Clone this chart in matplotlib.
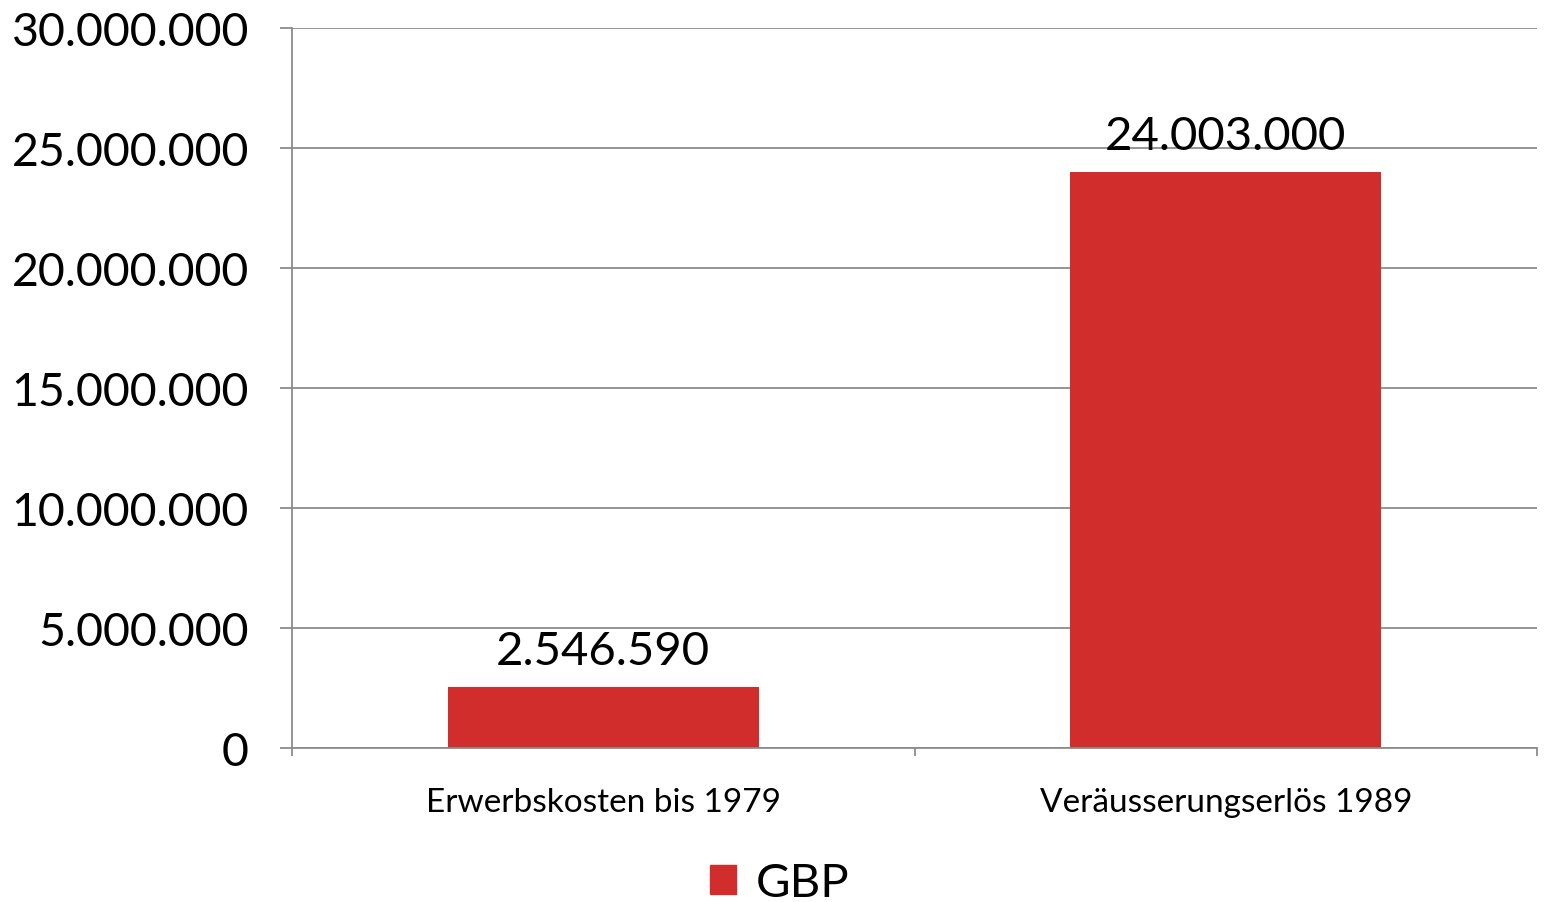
import matplotlib
matplotlib.use("Agg")
import matplotlib.pyplot as plt
from matplotlib.ticker import FuncFormatter
from matplotlib.patches import Patch

categories = ["Erwerbskosten bis 1979", "Veräusserungserlös 1989"]
values = [2546590, 24003000]
series_name = "GBP"
y_ticks = [0, 5000000, 10000000, 15000000, 20000000, 25000000, 30000000]

BAR_COLOR = "#D12D2D"
GRID_COLOR = "#8C8C8C"
FONT = ["Lato", "DejaVu Sans"]

plt.rcParams["font.family"] = FONT


def de_format(v, pos=None):
    # German thousands separator
    return f"{int(round(v)):,}".replace(",", ".")


fig = plt.figure(figsize=(15.44, 9.03), dpi=100)
ax = fig.add_axes([0.1891, 0.1705, 0.8064, 0.7974])

x = list(range(len(categories)))
bars = ax.bar(x, values, width=0.5, color=BAR_COLOR, zorder=2)

ax.set_xlim(-0.5, len(categories) - 0.5)
ax.set_ylim(0, 30000000)
ax.set_yticks(y_ticks)
ax.yaxis.set_major_formatter(FuncFormatter(de_format))
ax.grid(axis="y", color=GRID_COLOR, linewidth=1.3, zorder=0)
ax.set_axisbelow(True)

ax.set_xticks([-0.5, 0.5, 1.5])
ax.set_xticklabels([])
ax.set_xticks(x, minor=True)
ax.set_xticklabels(categories, minor=True)
ax.tick_params(axis="x", which="major", length=6, width=1.3, color=GRID_COLOR, direction="out")
ax.tick_params(axis="x", which="minor", length=0, pad=28, labelsize=24)
ax.tick_params(axis="y", length=9, width=1.3, color=GRID_COLOR, direction="out",
               pad=22, labelsize=33.5)

for side in ["top", "right"]:
    ax.spines[side].set_visible(False)
for side in ["left", "bottom"]:
    ax.spines[side].set_color(GRID_COLOR)
    ax.spines[side].set_linewidth(1.3)

for rect, v in zip(bars, values):
    ax.annotate(de_format(v), (rect.get_x() + rect.get_width() / 2, v),
                xytext=(0, 11), textcoords="offset points",
                ha="center", va="bottom", fontsize=34, zorder=3)

fig.legend(handles=[Patch(color=BAR_COLOR, label=series_name)],
           loc="center", bbox_to_anchor=(0.505, 0.021), frameon=False,
           fontsize=34, handlelength=0.55, handleheight=0.55, handletextpad=0.4)

fig.savefig("out.png", dpi=100)
